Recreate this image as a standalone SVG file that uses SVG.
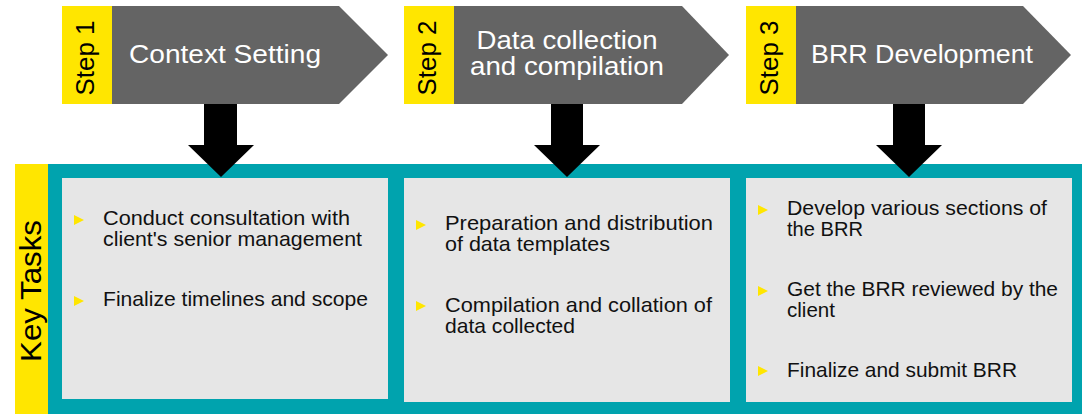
<svg xmlns="http://www.w3.org/2000/svg" width="1082" height="414" viewBox="0 0 1082 414">
  <style>
    .yel { fill: #FFE600; }
    .step-bg { fill: #646464; }
    .panel { fill: #E6E6E6; }
    .teal { fill: #00A3AE; }
    .arrow { fill: #000000; }
    .bullet { fill: #FFE600; }
    .steplbl { font-family: "Liberation Sans", Arial, sans-serif; font-size: 26px; fill: #000; text-anchor: middle; }
    .keylbl { font-family: "Liberation Sans", Arial, sans-serif; font-size: 30px; fill: #000; text-anchor: middle; }
    .title { font-family: "Liberation Sans", Arial, sans-serif; font-size: 25px; fill: #FFFFFF; text-anchor: middle; }
    .body { font-family: "Liberation Sans", Arial, sans-serif; font-size: 21px; fill: #111111; }
  </style>
  <rect width="1082" height="414" fill="#FFFFFF"/>

  <g id="key-tasks">
    <rect class="yel" x="15" y="164" width="33" height="250"/>
    <rect class="teal" x="48" y="164" width="1034" height="250"/>
    <text class="keylbl" transform="translate(41,291) rotate(-90)" textLength="142" lengthAdjust="spacingAndGlyphs">Key Tasks</text>
  </g>

  <g id="step1">
    <rect class="yel" x="62" y="6" width="50" height="98"/>
    <polygon class="step-bg" points="112,6 339,6 388,55 339,104 112,104"/>
    <text class="steplbl" transform="translate(94,58) rotate(-90)" textLength="75" lengthAdjust="spacingAndGlyphs">Step 1</text>
    <text class="title" x="225" y="63" textLength="192" lengthAdjust="spacingAndGlyphs">Context Setting</text>
  </g>

  <g id="step2">
    <rect class="yel" x="404" y="6" width="50" height="98"/>
    <polygon class="step-bg" points="454,6 682,6 729,55 682,104 454,104"/>
    <text class="steplbl" transform="translate(436,58) rotate(-90)" textLength="75" lengthAdjust="spacingAndGlyphs">Step 2</text>
    <text class="title" x="567" y="49" textLength="181" lengthAdjust="spacingAndGlyphs">Data collection</text>
    <text class="title" x="567" y="75" textLength="194" lengthAdjust="spacingAndGlyphs">and compilation</text>
  </g>

  <g id="step3">
    <rect class="yel" x="746" y="6" width="50" height="98"/>
    <polygon class="step-bg" points="796,6 1023,6 1071,55 1023,104 796,104"/>
    <text class="steplbl" transform="translate(778,58) rotate(-90)" textLength="75" lengthAdjust="spacingAndGlyphs">Step 3</text>
    <text class="title" x="922" y="63" textLength="222" lengthAdjust="spacingAndGlyphs">BRR Development</text>
  </g>

  <g id="tasks1">
    <rect class="panel" x="62" y="178" width="326" height="221"/>
    <polygon class="bullet" points="74,215 84,220 74,225"/>
    <text class="body" x="103" y="225" textLength="247" lengthAdjust="spacingAndGlyphs">Conduct consultation with</text>
    <text class="body" x="103" y="246" textLength="259" lengthAdjust="spacingAndGlyphs">client's senior management</text>
    <polygon class="bullet" points="74,296 84,301 74,306"/>
    <text class="body" x="103" y="306" textLength="265" lengthAdjust="spacingAndGlyphs">Finalize timelines and scope</text>
  </g>

  <g id="tasks2">
    <rect class="panel" x="404" y="178" width="326" height="224"/>
    <polygon class="bullet" points="416,220 426,225 416,230"/>
    <text class="body" x="445" y="230" textLength="268" lengthAdjust="spacingAndGlyphs">Preparation and distribution</text>
    <text class="body" x="445" y="251" textLength="165" lengthAdjust="spacingAndGlyphs">of data templates</text>
    <polygon class="bullet" points="416,301 426,306 416,311"/>
    <text class="body" x="445" y="312" textLength="267" lengthAdjust="spacingAndGlyphs">Compilation and collation of</text>
    <text class="body" x="445" y="333" textLength="130" lengthAdjust="spacingAndGlyphs">data collected</text>
  </g>

  <g id="tasks3">
    <rect class="panel" x="746" y="178" width="326" height="224"/>
    <polygon class="bullet" points="758,205 768,210 758,215"/>
    <text class="body" x="787" y="215" textLength="260" lengthAdjust="spacingAndGlyphs">Develop various sections of</text>
    <text class="body" x="787" y="236" textLength="76" lengthAdjust="spacingAndGlyphs">the BRR</text>
    <polygon class="bullet" points="758,286 768,291 758,296"/>
    <text class="body" x="787" y="296" textLength="271" lengthAdjust="spacingAndGlyphs">Get the BRR reviewed by the</text>
    <text class="body" x="787" y="317" textLength="48" lengthAdjust="spacingAndGlyphs">client</text>
    <polygon class="bullet" points="758,366 768,371 758,376"/>
    <text class="body" x="787" y="377" textLength="230" lengthAdjust="spacingAndGlyphs">Finalize and submit BRR</text>
  </g>

  <g id="connectors">
    <polygon class="arrow" points="204,104 237,104 237,145 254,145 221,177 188,145 204,145"/>
    <polygon class="arrow" points="551,104 583,104 583,145 600,145 567,177 534,145 551,145"/>
    <polygon class="arrow" points="893,104 925,104 925,145 942,145 909,177 876,145 893,145"/>
  </g>
</svg>
